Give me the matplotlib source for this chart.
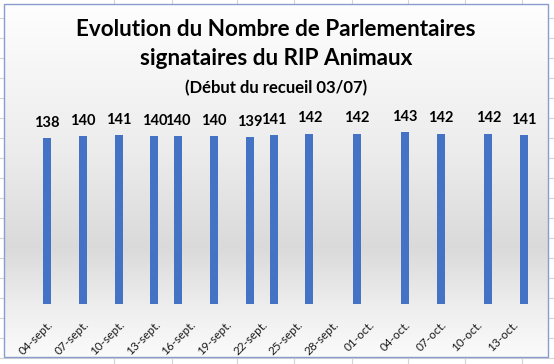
import numpy as np
import matplotlib
matplotlib.use('Agg')
import matplotlib.pyplot as plt
import matplotlib.dates as mdates
from matplotlib.patches import Rectangle
from matplotlib.colors import LinearSegmentedColormap
from datetime import datetime, timedelta

plt.rcParams['font.family'] = ['Lato', 'DejaVu Sans']

# data
dates = ['2020-09-04', '2020-09-07', '2020-09-10', '2020-09-13', '2020-09-15',
         '2020-09-18', '2020-09-21', '2020-09-23', '2020-09-26', '2020-09-30',
         '2020-10-04', '2020-10-07', '2020-10-11', '2020-10-14']
values = [138, 140, 141, 140, 140, 140, 139, 141, 142, 142, 143, 142, 142, 141]
tick_labels = ['04-sept.', '07-sept.', '10-sept.', '13-sept.', '16-sept.', '19-sept.',
               '22-sept.', '25-sept.', '28-sept.', '01-oct.', '04-oct.', '07-oct.',
               '10-oct.', '13-oct.']

x = [datetime.strptime(d, '%Y-%m-%d') for d in dates]
start = x[0]
tick_dates = [start + timedelta(days=3 * i) for i in range(len(tick_labels))]

W, H = 554, 364
fig = plt.figure(figsize=(W / 100, H / 100), dpi=100)

# background: spreadsheet cells + chart area (pixel coords)
bg = fig.add_axes([0, 0, 1, 1])
bg.set_xlim(0, W)
bg.set_ylim(H, 0)
bg.axis('off')
for yy in range(18, H, 20):
    bg.axhline(yy, color='#d4d4d4', lw=0.8, zorder=0)
for xx in [114, 172, 237, 294, 352, 408, 465, 522]:
    bg.axvline(xx, color='#d4d4d4', lw=0.8, zorder=0)

box = (4, 548, 357, 4)
grad_cmap = LinearSegmentedColormap.from_list(
    'g', [(0.0, '#fefefe'), (0.42, '#ececec'), (0.69, '#dadada'),
          (0.85, '#ededed'), (1.0, '#fbfbfb')])
grad = np.linspace(0, 1, 256).reshape(-1, 1)
bg.imshow(grad, cmap=grad_cmap, extent=box, aspect='auto', zorder=1)
bg.add_patch(Rectangle((4, 4), 544, 353, fill=False, edgecolor='#8a9ccc', lw=1.0, zorder=2))
bg.set_xlim(0, W)
bg.set_ylim(H, 0)

bg.text(276, 36, 'Evolution du Nombre de Parlementaires', ha='center', va='baseline',
        fontsize=16.2, fontweight='bold', color='black', zorder=3)
bg.text(276, 65, 'signataires du RIP Animaux', ha='center', va='baseline',
        fontsize=16.2, fontweight='bold', color='black', zorder=3)
bg.text(276, 93, '(Début du recueil 03/07)', ha='center', va='baseline',
        fontsize=12, fontweight='bold', color='black', zorder=3)

# plot area
ax = fig.add_axes([35.1 / W, 60 / H, 500.8 / W, 192 / H])
ax.patch.set_visible(False)
ax.bar(x, values, width=0.67, color='#4472c4', zorder=3)
for xi, v in zip(x, values):
    ax.annotate(str(v), (mdates.date2num(xi), v), xytext=(0, 8), textcoords='offset points',
                ha='center', va='baseline', fontsize=10.5, fontweight='bold', color='black')

x0 = mdates.date2num(start)
ax.set_xlim(x0 - 1, x0 + 41)
ax.set_ylim(0, 160)
ax.set_xticks(tick_dates)
ax.set_xticklabels(tick_labels, rotation=45, ha='right', rotation_mode='anchor',
                   fontsize=8.5, color='#1a1a1a')
ax.tick_params(axis='x', length=0, pad=11)
ax.set_yticks([])
for s in ax.spines.values():
    s.set_visible(False)

fig.savefig('out.png', dpi=100)
